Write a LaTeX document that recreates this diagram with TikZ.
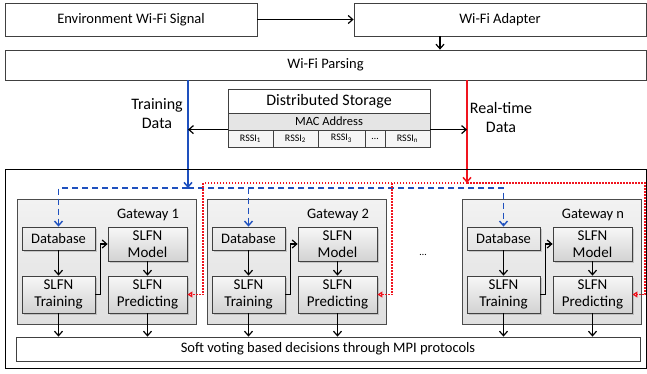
\documentclass[tikz,border=0pt]{standalone}
\usepackage{fontspec}
\setmainfont{Carlito}
\usetikzlibrary{arrows.meta,shadows}
\definecolor{tdblue}{RGB}{30,80,190}
\definecolor{rtred}{RGB}{240,20,30}
\tikzset{
  box/.style={draw=black!75,line width=0.8pt,inner sep=0pt,align=center},
  gwbox/.style={draw=black!70,line width=0.8pt,top color=gray!10,bottom color=gray!25},
  unit/.style={box,top color=gray!6,bottom color=gray!35,align=center,
    drop shadow={opacity=0.35,shadow xshift=1.5pt,shadow yshift=-1.5pt},
    font=\fontsize{15}{17}\selectfont},
  cell/.style={box,fill=gray!8,minimum height=17,font=\fontsize{10}{12}\selectfont}
}
\begin{document}
\begin{tikzpicture}[x=1pt,y=-1pt,>={Straight Barb[length=4.5pt,width=8pt]},line width=1.2pt,font=\fontsize{14.5}{17}\selectfont]
  \useasboundingbox (0,0) rectangle (647,373);

  % 信号与解析
  \node[box,minimum width=252,minimum height=33] (env) at (131,19.5) {Environment Wi-Fi Signal};
  \node[box,minimum width=292,minimum height=33] (adp) at (500,19.5) {Wi-Fi Adapter};
  \node[box,minimum width=641,minimum height=30] (parse) at (325.5,65) {Wi-Fi Parsing};
  \draw[->] (env) -- (adp);
  \draw[->] ([xshift=-60]adp.south) -- ([xshift=-60]adp.south |- parse.north);

  % 分布式存储
  \node[box,minimum width=202,minimum height=24,font=\fontsize{16}{19}\selectfont] (dst) at (329,101) {Distributed Storage};
  \node[box,fill=gray!20,minimum width=202,minimum height=17,font=\fontsize{12.5}{14}\selectfont] (mac) at (329,121.5) {MAC Address};
  \node[cell,minimum width=45] (rs1) at (250.5,138.5) {RSSI\textsubscript{1}};
  \node[cell,minimum width=45] (rs2) at (295.5,138.5) {RSSI\textsubscript{2}};
  \node[cell,minimum width=47] (rs3) at (341.5,138.5) {RSSI\textsubscript{3}};
  \node[cell,minimum width=20] (rsd) at (375,138.5) {\dots};
  \node[cell,minimum width=45] (rsn) at (407.5,138.5) {RSSI\textsubscript{n}};

  \node[align=center,font=\fontsize{16}{19}\selectfont] (tdl) at (157,114) {Training\\Data};
  \node[align=center,font=\fontsize{16}{19}\selectfont] (rtl) at (501,117) {Real-time\\Data};

  \coordinate (bj) at (188,188);
  \coordinate (rj) at (467,183);
  \draw[tdblue,line width=1.5pt,->] (parse.south -| bj) -- (bj);
  \draw[rtred,line width=1.5pt,->] (parse.south -| rj) -- (rj);
  \draw[->] (rs1.north west) -- (rs1.north west -| bj);
  \draw[->] (rsn.north east) -- (rsn.north east -| rj);

  % 外框
  \draw[line width=0.6pt] (5,169) rectangle (646.5,368);

  % 网关
  \foreach \o/\g in {0/1,190/2,445/n}{
    \node[gwbox,minimum width=179,minimum height=125] (gw\g) at ({106.5+\o},261.5) {};
    \node (gwl\g) at ({148+\o},215) {Gateway \g};
    \node[unit,top color=gray!12,bottom color=gray!22,minimum width=73,minimum height=23,font=\fontsize{14.5}{17}\selectfont] (db\g) at ({58.5+\o},238.5) {Database};
    \node[unit,minimum width=79,minimum height=34] (mod\g) at ({147.5+\o},244) {SLFN\\Model};
    \node[unit,minimum width=73,minimum height=37] (trn\g) at ({58.5+\o},294.5) {SLFN\\Training};
    \node[unit,minimum width=79,minimum height=37] (prd\g) at ({147.5+\o},294.5) {SLFN\\Predicting};
  }
  \node[font=\fontsize{10}{12}\selectfont] (gdots) at (423,255) {\dots};

  % 投票
  \node[box,minimum width=624,minimum height=24] (vote) at (328,349) {Soft voting based decisions through MPI protocols};

  \foreach \g in {1,2,n}{
    \draw[->] (db\g) -- (trn\g);
    \draw[->] (trn\g.east) -- ++(5,0) |- (mod\g.west);
    \draw[->] (mod\g) -- (prd\g);
    \draw[->] (trn\g.south) -- (trn\g.south |- vote.north);
    \draw[->] (prd\g.south) -- (prd\g.south |- vote.north);
  }

  % 训练数据（蓝）
  \draw[tdblue,line width=1.4pt,dash pattern=on 6pt off 4pt,->] (bj) -| (db1.north);
  \draw[tdblue,line width=1.4pt,dash pattern=on 6pt off 4pt,->] (bj) -| (db2.north);
  \draw[tdblue,line width=1.4pt,dash pattern=on 6pt off 4pt,->] (bj) -| (dbn.north);

  % 实时数据（红）
  \coordinate (rc1) at (203,183);
  \coordinate (rc2) at (392,183);
  \coordinate (rcn) at (645,183);
  \draw[rtred,dash pattern=on 1.5pt off 1.5pt,-{Triangle[open,length=5pt,width=6pt]}] (rj) -- (rc1) |- (prd1.east);
  \draw[rtred,dash pattern=on 1.5pt off 1.5pt,-{Triangle[open,length=5pt,width=6pt]}] (rj) -- (rc2) |- (prd2.east);
  \draw[rtred,dash pattern=on 1.5pt off 1.5pt,-{Triangle[open,length=5pt,width=6pt]}] (rj) -- (rcn) |- (prdn.east);
\end{tikzpicture}
\end{document}
